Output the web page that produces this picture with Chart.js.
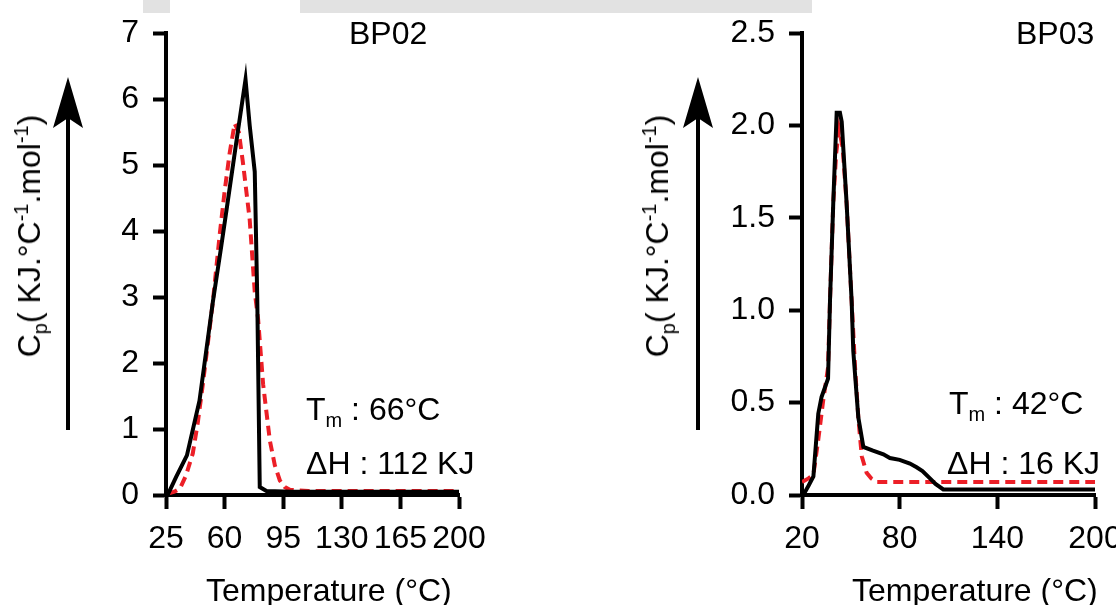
<!DOCTYPE html>
<html>
<head>
<meta charset="utf-8">
<script src="https://cdn.jsdelivr.net/npm/chart.js@4/dist/chart.umd.min.js"></script>
<style>
  html, body { margin: 0; padding: 0; background: #fff; }
  body { width: 1116px; height: 605px; position: relative; overflow: hidden;
         font-family: "Liberation Sans", Arial, sans-serif; color: #000; }
  .panel { position: absolute; top: 0; height: 605px; }
  .txt { position: absolute; font-size: 32px; line-height: 1; white-space: nowrap; }
  .ytitle { transform: translate(-50%, -50%) rotate(-90deg); }
  .ytitle sub, .ytitle sup, .txt sub { font-size: 20px; line-height: 0; }
  .band { position: absolute; top: 0; height: 13px; background: #e2e2e2; }
</style>
</head>
<body>
<div class="band" style="left:143px;width:27px"></div>
<div class="band" style="left:300px;width:512px"></div>

<div class="panel" style="left:0;width:558px"><canvas id="bp02"></canvas></div>
<div class="panel" style="left:558px;width:620px"><canvas id="bp03"></canvas></div>

<div class="txt" style="left:349px;top:17px">BP02</div>
<div class="txt" style="left:1016px;top:17px">BP03</div>

<div class="txt ytitle" style="left:29px;top:236px">C<sub>p</sub>( KJ.°C<sup>-1</sup>.mol<sup>-1</sup>)</div>
<div class="txt ytitle" style="left:657px;top:236px">C<sub>p</sub>( KJ.°C<sup>-1</sup>.mol<sup>-1</sup>)</div>

<div class="txt" style="left:306px;top:393px">T<sub>m</sub> : 66°C</div>
<div class="txt" style="left:306px;top:447px">ΔH : 112 KJ</div>
<div class="txt" style="left:949px;top:387px">T<sub>m</sub> : 42°C</div>
<div class="txt" style="left:947px;top:447px">ΔH : 16 KJ</div>

<div class="txt" style="left:206px;top:574px">Temperature (°C)</div>
<div class="txt" style="left:852px;top:574px">Temperature (°C)</div>

<script>
// BP02 - measured (black) and fitted (red dashed)
const bp02Temp = [26, 31, 37.5, 45, 53, 58, 62, 67, 72.5, 75, 78, 79.5, 81, 85, 100, 130, 160, 200];
const bp02Cp = [0, 0.27, 0.6, 1.43, 2.93, 3.77, 4.47, 5.35, 6.3, 5.6, 4.9, 3.0, 0.12, 0.06, 0.05, 0.05, 0.05, 0.05];
const bp02FitTemp = [26, 30, 33.4, 37, 41, 44, 47, 50, 53, 57, 60, 63, 66, 68.5, 71, 75, 78, 80, 83, 87, 90, 93, 96, 99, 110, 140, 170, 200];
const bp02FitCp = [0.02, 0.05, 0.1, 0.3, 0.63, 1.1, 1.68, 2.3, 2.93, 3.93, 4.6, 5.18, 5.63, 5.5, 5.03, 4.17, 3.08, 2.67, 1.68, 0.83, 0.45, 0.22, 0.12, 0.08, 0.06, 0.06, 0.06, 0.06];
const bp02XTicks = [25, 60, 95, 130, 165, 200];

// BP03
const bp03Temp = [20.8, 24, 27, 30, 32, 36, 37.2, 39.2, 41.3, 43.3, 44.4, 47.4, 50.5, 51.5, 54.6, 57.7, 63.6, 70, 74, 80, 86.3, 90.4, 94, 98.6, 102, 106.8, 130, 160, 200];
const bp03Cp = [0, 0.05, 0.1, 0.44, 0.53, 0.63, 1.05, 1.58, 2.07, 2.07, 2.02, 1.58, 1.05, 0.78, 0.42, 0.26, 0.24, 0.22, 0.2, 0.19, 0.17, 0.15, 0.13, 0.09, 0.06, 0.03, 0.03, 0.03, 0.03];
const bp03FitTemp = [20, 24, 27, 30, 33, 36, 37.2, 39.2, 41, 42.8, 45, 47.4, 50.5, 52.6, 54.6, 56.7, 59.7, 62.5, 65.9, 80, 110, 140, 170, 200];
const bp03FitCp = [0.07, 0.09, 0.11, 0.3, 0.51, 0.69, 1.05, 1.58, 1.85, 1.98, 1.88, 1.58, 1.05, 0.69, 0.42, 0.21, 0.12, 0.09, 0.07, 0.07, 0.07, 0.07, 0.07, 0.07];
const bp03XTicks = [20, 80, 140, 200];

const toPoints = (xs, ys) => xs.map((x, i) => ({ x: x, y: ys[i] }));

// upward arrow next to the y title
const arrowPlugin = {
  id: 'cpArrow',
  afterDraw(chart, args, opts) {
    const ctx = chart.ctx;
    const x = opts.x;
    ctx.save();
    ctx.strokeStyle = '#000';
    ctx.fillStyle = '#000';
    ctx.lineWidth = 4;
    ctx.beginPath();
    ctx.moveTo(x, 430);
    ctx.lineTo(x, 115);
    ctx.stroke();
    ctx.beginPath();
    ctx.moveTo(x, 77);
    ctx.lineTo(x + 15, 128);
    ctx.lineTo(x, 118);
    ctx.lineTo(x - 15, 128);
    ctx.closePath();
    ctx.fill();
    ctx.restore();
  }
};

function makeChart(id, cfg) {
  const font = { family: '"Liberation Sans", Arial, sans-serif', size: 32 };
  const canvas = document.getElementById(id);
  canvas.width = cfg.width;
  canvas.height = 605;
  return new Chart(canvas, {
    type: 'line',
    data: {
      datasets: [
        {
          data: toPoints(cfg.measT, cfg.measY),
          borderColor: '#000',
          borderWidth: 4,
          pointRadius: 0,
          tension: 0,
          fill: false
        },
        {
          data: toPoints(cfg.fitT, cfg.fitY),
          borderColor: '#ec1f27',
          borderWidth: 4,
          borderDash: [10, 6],
          pointRadius: 0,
          tension: 0,
          fill: false
        }
      ]
    },
    options: {
      responsive: false,
      animation: false,
      layout: { padding: { left: 0, top: 29, right: cfg.padRight, bottom: 0 } },
      plugins: {
        legend: { display: false },
        tooltip: { enabled: false },
        cpArrow: { x: cfg.arrowX }
      },
      scales: {
        x: {
          type: 'linear',
          min: cfg.xTicks[0],
          max: cfg.xTicks[cfg.xTicks.length - 1],
          afterBuildTicks: (scale) => { scale.ticks = cfg.xTicks.map(v => ({ value: v })); },
          afterFit: (scale) => { scale.height = 110; },
          border: { display: true, color: '#000', width: 4 },
          grid: { drawOnChartArea: false, drawTicks: true, tickLength: 14, tickWidth: 4, tickColor: '#000' },
          ticks: { color: '#000', font: font, padding: 11, maxRotation: 0, autoSkip: false }
        },
        y: {
          min: 0,
          max: cfg.yMax,
          afterBuildTicks: (scale) => { scale.ticks = cfg.yTicks.map(v => ({ value: v })); },
          afterFit: (scale) => { scale.width = cfg.yWidth; },
          border: { display: true, color: '#000', width: 4 },
          grid: { drawOnChartArea: false, drawTicks: true, tickLength: 13, tickWidth: 4, tickColor: '#000' },
          ticks: {
            color: '#000', font: font, padding: 14,
            callback: (v) => cfg.yFmt(v)
          }
        }
      }
    },
    plugins: [arrowPlugin]
  });
}

makeChart('bp02', {
  measT: bp02Temp, measY: bp02Cp, fitT: bp02FitTemp, fitY: bp02FitCp,
  xTicks: bp02XTicks, yMax: 7, yTicks: [0, 1, 2, 3, 4, 5, 6, 7],
  yFmt: (v) => String(v), width: 558, yWidth: 166, padRight: 99, arrowX: 68
});

makeChart('bp03', {
  measT: bp03Temp, measY: bp03Cp, fitT: bp03FitTemp, fitY: bp03FitCp,
  xTicks: bp03XTicks, yMax: 2.5, yTicks: [0, 0.5, 1, 1.5, 2, 2.5],
  yFmt: (v) => v.toFixed(1), width: 620, yWidth: 244, padRight: 83, arrowX: 140
});
</script>
</body>
</html>
